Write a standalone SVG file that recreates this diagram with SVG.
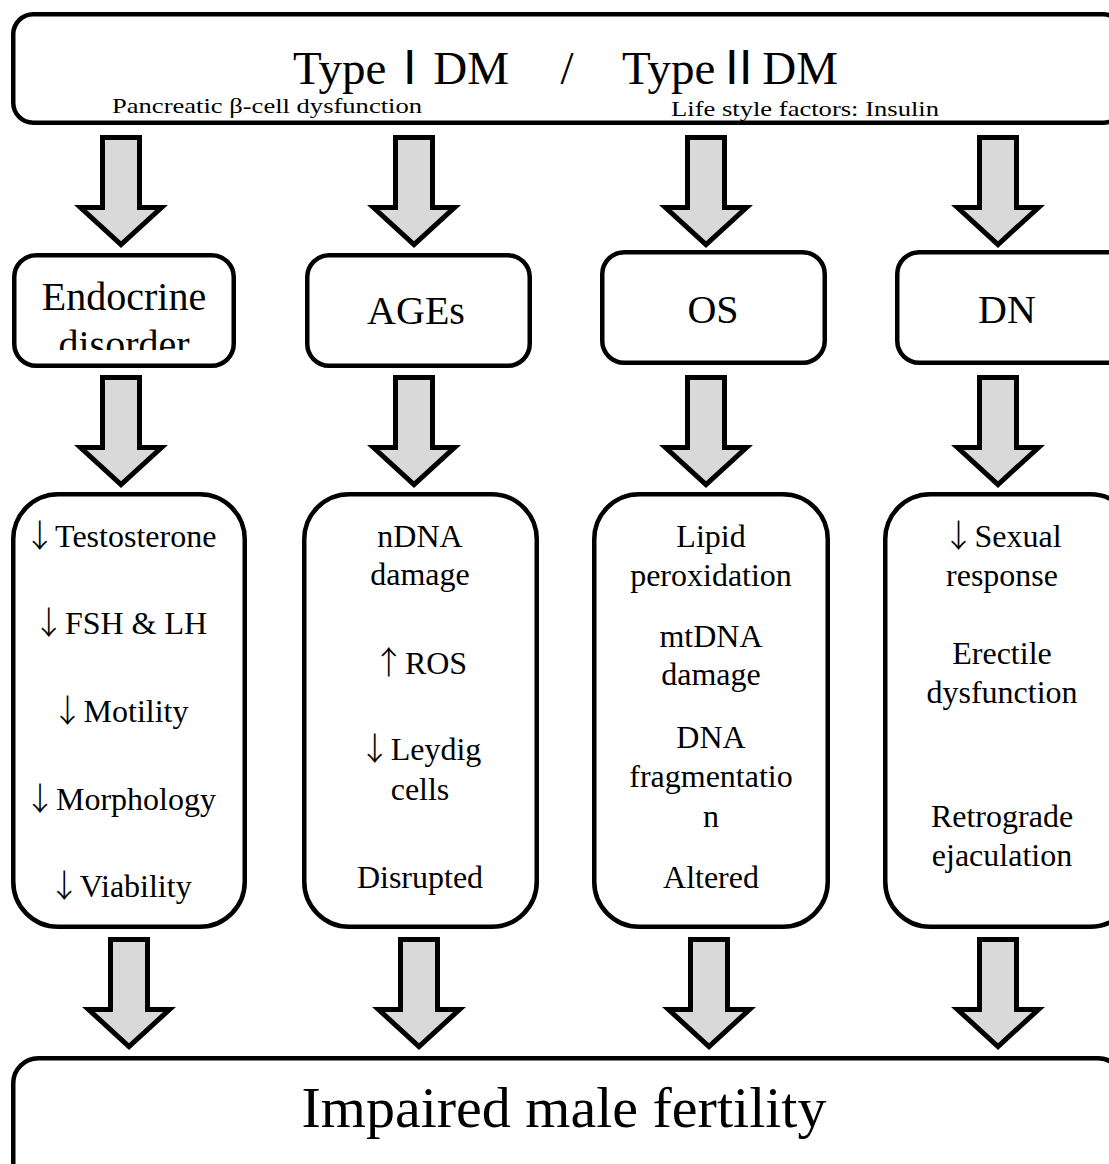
<svg xmlns="http://www.w3.org/2000/svg" xmlns:xlink="http://www.w3.org/1999/xlink" width="1109" height="1164" viewBox="0 0 1109 1164">
<style>
.box{fill:#fff;stroke:#000;stroke-width:4.5}
.arr{fill:#d9d9d9;stroke:#000;stroke-width:5;stroke-linejoin:miter}
text{font-family:"Liberation Serif","Noto Sans CJK SC",serif;fill:#000;text-anchor:middle}
.t1{font-size:47px}
.sub{font-size:22px;text-anchor:start}
.t2{font-size:40px}
.t3{font-size:32px}
.t4{font-size:58px}
.ar{font-family:"Noto Sans CJK JP",sans-serif;font-weight:300;letter-spacing:-8px}
</style>
<defs>
<path id="arrow" class="arr" d="M-18.5 0 H18.5 V70 H40.5 L0 107 L-40.5 70 H-18.5 Z"/>
<clipPath id="clipEndo"><rect x="14" y="258" width="220" height="92"/></clipPath>
</defs>
<rect width="1109" height="1164" fill="#fff"/>

<g id="top">
<rect class="box" x="13.25" y="14.25" width="1110" height="108.5" rx="20"/>
<text class="t1" x="401" y="84">TypeⅠDM</text>
<text class="t1" x="567" y="84">/</text>
<text class="t1" x="730" y="84">TypeⅡDM</text>
<text class="sub" x="112" y="113" textLength="310" lengthAdjust="spacingAndGlyphs">Pancreatic β-cell dysfunction</text>
<text class="sub" x="671" y="116" textLength="268" lengthAdjust="spacingAndGlyphs">Life style factors: Insulin</text>
</g>

<g id="connectors">
<use xlink:href="#arrow" x="121" y="137.5"/>
<use xlink:href="#arrow" x="414" y="137.5"/>
<use xlink:href="#arrow" x="706" y="137.5"/>
<use xlink:href="#arrow" x="998" y="137.5"/>
<use xlink:href="#arrow" x="121" y="377.5"/>
<use xlink:href="#arrow" x="414" y="377.5"/>
<use xlink:href="#arrow" x="706" y="377.5"/>
<use xlink:href="#arrow" x="998" y="377.5"/>
<use xlink:href="#arrow" x="129" y="939.5"/>
<use xlink:href="#arrow" x="419" y="939.5"/>
<use xlink:href="#arrow" x="709" y="939.5"/>
<use xlink:href="#arrow" x="998" y="939.5"/>
</g>

<g id="endocrine">
<rect class="box" x="14.25" y="255.25" width="219.5" height="110.5" rx="22"/>
<g clip-path="url(#clipEndo)">
<text class="t2" x="124" y="310">Endocrine</text>
<text class="t2" x="124" y="358">disorder</text>
</g>
</g>
<g id="ages">
<rect class="box" x="307.25" y="255.25" width="222.5" height="110.5" rx="22"/>
<text class="t2" x="416" y="324">AGEs</text>
</g>
<g id="os">
<rect class="box" x="602.25" y="252.25" width="222.5" height="110.5" rx="22"/>
<text class="t2" x="713" y="323">OS</text>
</g>
<g id="dn">
<rect class="box" x="897.25" y="252.25" width="240" height="110.5" rx="22"/>
<text class="t2" x="1007" y="323">DN</text>
</g>

<g id="endocrine-effects">
<rect class="box" x="13.25" y="494.25" width="231.5" height="432.5" rx="45"/>
<text class="t3" x="120" y="547"><tspan class="ar">↓</tspan> Testosterone</text>
<text class="t3" x="120" y="634"><tspan class="ar">↓</tspan> FSH &amp; LH</text>
<text class="t3" x="120" y="722"><tspan class="ar">↓</tspan> Motility</text>
<text class="t3" x="120" y="810"><tspan class="ar">↓</tspan> Morphology</text>
<text class="t3" x="120" y="897"><tspan class="ar">↓</tspan> Viability</text>
</g>
<g id="ages-effects">
<rect class="box" x="304.25" y="494.25" width="232.5" height="432.5" rx="45"/>
<text class="t3" x="420" y="547">nDNA</text>
<text class="t3" x="420" y="585">damage</text>
<text class="t3" x="420" y="674"><tspan class="ar">↑</tspan> ROS</text>
<text class="t3" x="420" y="760"><tspan class="ar">↓</tspan> Leydig</text>
<text class="t3" x="420" y="800">cells</text>
<text class="t3" x="420" y="888">Disrupted</text>
</g>
<g id="os-effects">
<rect class="box" x="594.25" y="494.25" width="233.5" height="432.5" rx="45"/>
<text class="t3" x="711" y="547">Lipid</text>
<text class="t3" x="711" y="586">peroxidation</text>
<text class="t3" x="711" y="647">mtDNA</text>
<text class="t3" x="711" y="685">damage</text>
<text class="t3" x="711" y="748">DNA</text>
<text class="t3" x="711" y="787">fragmentatio</text>
<text class="t3" x="711" y="827">n</text>
<text class="t3" x="711" y="888">Altered</text>
</g>
<g id="dn-effects">
<rect class="box" x="885.25" y="494.25" width="250" height="432.5" rx="45"/>
<text class="t3" x="1002" y="547"><tspan class="ar">↓</tspan> Sexual</text>
<text class="t3" x="1002" y="586">response</text>
<text class="t3" x="1002" y="664">Erectile</text>
<text class="t3" x="1002" y="703">dysfunction</text>
<text class="t3" x="1002" y="827">Retrograde</text>
<text class="t3" x="1002" y="866">ejaculation</text>
</g>

<g id="outcome">
<rect class="box" x="13.25" y="1058.25" width="1110" height="150" rx="25"/>
<text class="t4" x="564" y="1127">Impaired male fertility</text>
</g>
</svg>
